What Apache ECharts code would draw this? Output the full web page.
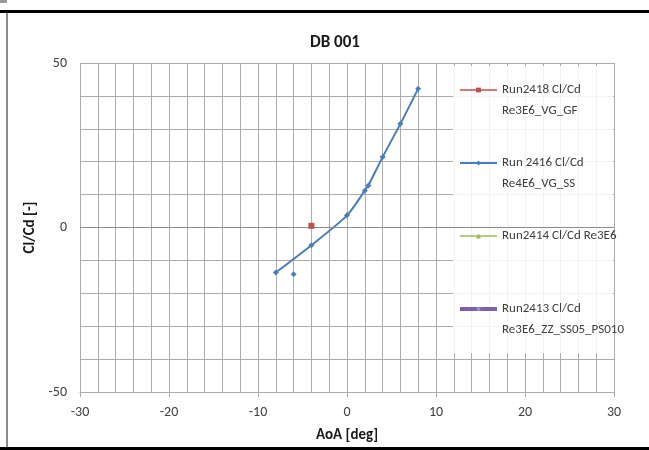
<!DOCTYPE html>
<html>
<head>
<meta charset="utf-8">
<script src="https://cdn.jsdelivr.net/npm/echarts@6/dist/echarts.min.js"></script>
<style>
html,body{margin:0;padding:0;background:#fff;}
#chart{width:649px;height:450px;}
</style>
</head>
<body>
<div id="chart"></div>
<script>
// ---- data ----
const titleText = 'DB 001';
const xName = 'AoA [deg]';
const yName = 'Cl/Cd [-]';
const xTicks = [-30, -20, -10, 0, 10, 20, 30];
const yTicks = [-50, 0, 50];

const name2418 = 'Run2418 Cl/Cd\nRe3E6_VG_GF';
const name2416 = 'Run 2416 Cl/Cd\nRe4E6_VG_SS';
const name2414 = 'Run2414 Cl/Cd Re3E6';
const name2413 = 'Run2413 Cl/Cd\nRe3E6_ZZ_SS05_PS010';

const aoa2418 = [-4];
const clcd2418 = [0.5];

const aoa2416 = [-8, -4, 0, 2, 2.4, 4, 6, 8];
const clcd2416 = [-13.7, -5.4, 3.7, 11.2, 12.8, 21.4, 31.5, 42.2];
const aoa2416b = [-6];
const clcd2416b = [-14.2];

const aoa2414 = [];
const clcd2414 = [];
const aoa2413 = [];
const clcd2413 = [];

const zip = (a, b) => a.map((v, i) => [v, b[i]]);

const FONT = 'Carlito, "Liberation Sans Narrow", Lato, sans-serif';
const TXT = '#404040';
const GRID = '#acacac';
const xMark = 'path://M0,1L1,0L5,4L9,0L10,1L6,5L10,9L9,10L5,6L1,10L0,9L4,5Z';

const chart = echarts.init(document.getElementById('chart'), null, {renderer: 'canvas'});
chart.setOption({
  animation: false,
  backgroundColor: '#fff',
  textStyle: {fontFamily: FONT},
  title: {
    text: titleText, left: 330, top: 29, textAlign: 'center',
    textStyle: {fontFamily: FONT, fontSize: 17, fontWeight: 'bold', color: '#1a1a1a'}
  },
  grid: {left: 80, right: 35, top: 63, bottom: 58, containLabel: false},
  xAxis: {
    type: 'value', min: xTicks[0], max: xTicks[xTicks.length - 1], interval: 10,
    name: xName, nameLocation: 'middle', nameGap: 36,
    nameTextStyle: {fontFamily: FONT, fontSize: 15, fontWeight: 'bold', color: '#1a1a1a'},
    axisLine: {onZero: false, lineStyle: {color: GRID, width: 1}},
    axisTick: {show: true, length: 5, lineStyle: {color: GRID}},
    minorTick: {show: false, splitNumber: 5},
    axisLabel: {fontFamily: FONT, fontSize: 14, color: TXT, margin: 13},
    splitLine: {show: true, lineStyle: {color: GRID, width: 1}},
    minorSplitLine: {show: true, lineStyle: {color: GRID, width: 1}}
  },
  yAxis: {
    type: 'value', min: yTicks[0], max: yTicks[yTicks.length - 1], interval: 50,
    name: yName, nameLocation: 'middle', nameGap: 42, nameRotate: 90,
    nameTextStyle: {fontFamily: FONT, fontSize: 15, fontWeight: 'bold', color: '#1a1a1a'},
    axisLine: {show: true, lineStyle: {color: GRID, width: 1}},
    axisTick: {show: true, length: 5, lineStyle: {color: GRID}},
    minorTick: {show: true, splitNumber: 5, length: 5, lineStyle: {color: GRID}},
    axisLabel: {fontFamily: FONT, fontSize: 14, color: TXT, margin: 13},
    splitLine: {show: true, lineStyle: {color: GRID, width: 1}},
    minorSplitLine: {show: true, lineStyle: {color: GRID, width: 1}}
  },
  legend: {
    orient: 'vertical', left: 458, top: 58.5, padding: 0, itemGap: 10,
    itemWidth: 37, itemHeight: 6,
    data: [
      {name: name2418, lineStyle: {width: 1.5}},
      {name: name2416, lineStyle: {width: 2}},
      {name: name2414, lineStyle: {width: 1.5}},
      {name: name2413, lineStyle: {width: 4}}
    ],
    formatter: function (n) { return '\n' + n + (n.indexOf('\n') < 0 ? '\n ' : ''); },
    textStyle: {fontFamily: FONT, fontSize: 13, color: TXT, lineHeight: 21}
  },
  graphic: [
    {type: 'rect', shape: {x: 453, y: 66, width: 160, height: 287}, style: {fill: 'rgba(255,255,255,0.86)'}, z: 3, silent: true},
    {type: 'rect', shape: {x: 0, y: 10, width: 649, height: 3}, style: {fill: '#000'}, z: 10, silent: true},
    {type: 'rect', shape: {x: 0, y: 447, width: 649, height: 3}, style: {fill: '#000'}, z: 10, silent: true},
    {type: 'rect', shape: {x: 6, y: 13, width: 2, height: 434}, style: {fill: '#8a8a8a'}, z: 10, silent: true},
    {type: 'rect', shape: {x: 0, y: 0, width: 7, height: 3}, style: {fill: '#9a9a9a'}, z: 10, silent: true}
  ],
  series: [
    {
      name: name2418, type: 'line', data: zip(aoa2418, clcd2418),
      symbol: 'rect', symbolSize: 6, showSymbol: true,
      itemStyle: {color: '#C0504D'}, lineStyle: {color: '#C0504D', width: 1.5}, z: 5
    },
    {
      name: name2416, type: 'line', data: zip(aoa2416, clcd2416), smooth: 0.25,
      symbol: 'diamond', symbolSize: 6, showSymbol: true,
      itemStyle: {color: '#4A7EBB'}, lineStyle: {color: '#4A7EBB', width: 2},
      markLine: {
        silent: true, symbol: 'none', label: {show: false},
        lineStyle: {color: '#8c8c8c', width: 1, type: 'solid'},
        data: [{yAxis: 0}]
      }
    },
    {
      name: name2416, type: 'line', data: zip(aoa2416b, clcd2416b),
      symbol: 'diamond', symbolSize: 6, showSymbol: true,
      itemStyle: {color: '#4A7EBB'}, lineStyle: {color: '#4A7EBB', width: 2}
    },
    {
      name: name2414, type: 'line', data: zip(aoa2414, clcd2414),
      symbol: 'triangle', symbolSize: 5,
      itemStyle: {color: '#9BBB59'}, lineStyle: {color: '#9BBB59', width: 1.5}
    },
    {
      name: name2413, type: 'line', data: zip(aoa2413, clcd2413),
      symbol: xMark, symbolSize: 9,
      itemStyle: {color: '#A9C4E8'}, lineStyle: {color: '#7E5FAA', width: 4}
    }
  ]
});
</script>
</body>
</html>
